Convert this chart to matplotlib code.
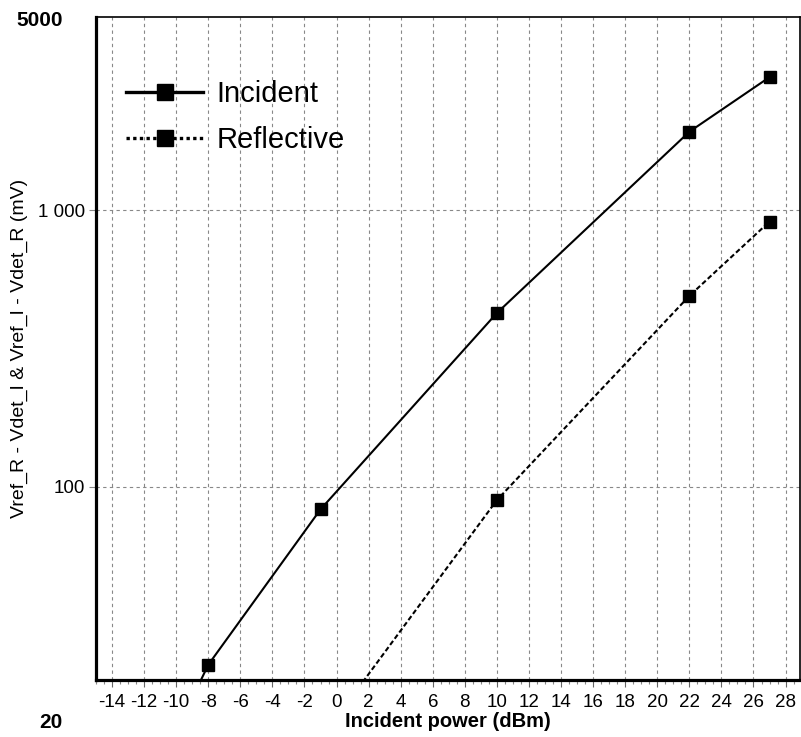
import matplotlib
matplotlib.use("Agg")
import matplotlib.pyplot as plt
from matplotlib.lines import Line2D
from matplotlib.ticker import MultipleLocator, NullLocator, FixedLocator, FixedFormatter

plt.rcParams["font.family"] = ["Liberation Sans", "DejaVu Sans"]
plt.rcParams["axes.unicode_minus"] = False

# data (incident power in dBm, voltage in mV)
incident_x = [-10, -8, -1, 10, 22, 27]
incident_y = [13.0, 22.7, 82.8, 425, 1923, 3030]
reflective_x = [-1, 10, 22, 27]
reflective_y = [12.2, 89.5, 490, 910]

x_ticks = list(range(-14, 29, 2))
y_ticks = [100, 1000]
y_tick_labels = ["100", "1 000"]
y_min, y_max = 20, 5000

fig = plt.figure(figsize=(8.01, 7.37), dpi=100)
ax = fig.add_axes([96 / 801, 1 - 680 / 737, 704 / 801, 663 / 737])

ax.plot(incident_x, incident_y, color="black", lw=1.5, marker="s", ms=8,
        clip_on=True, zorder=3)
ax.plot(reflective_x, reflective_y, color="black", lw=1.5,
        linestyle=(0, (2.4, 1.3)), marker="s", ms=8, zorder=3)

ax.set_yscale("log")
ax.set_xlim(-15, 28.9)
ax.set_ylim(y_min, y_max)

ax.xaxis.set_major_locator(FixedLocator(x_ticks))
ax.xaxis.set_minor_locator(MultipleLocator(0.5))
ax.yaxis.set_major_locator(FixedLocator(y_ticks))
ax.yaxis.set_major_formatter(FixedFormatter(y_tick_labels))
ax.yaxis.set_minor_locator(NullLocator())

ax.tick_params(axis="x", which="major", direction="out", length=5, width=0.8,
               color="#666666", labelsize=13.5, pad=5)
ax.tick_params(axis="x", which="minor", direction="out", length=3, width=0.8,
               color="#888888")
ax.tick_params(axis="y", which="major", direction="out", length=5, width=0.8,
               color="#888888", labelsize=13.5, pad=3)

ax.grid(True, which="major", axis="x", color="#888888", lw=0.8,
        linestyle=(0, (3, 3)))
ax.grid(True, which="major", axis="y", color="#888888", lw=0.8,
        linestyle=(0, (3, 3)))

for side in ["left", "bottom"]:
    ax.spines[side].set_linewidth(2.3)
for side in ["top", "right"]:
    ax.spines[side].set_linewidth(1.2)

ax.set_xlabel("Incident power (dBm)", fontsize=14.5, fontweight="bold", labelpad=1)
ax.set_ylabel("Vref_R - Vdet_I & Vref_I - Vdet_R (mV)", fontsize=14, labelpad=7)

# axis end values drawn outside the frame
fig.text(40 / 801, 1 - 20 / 737, str(y_max), fontsize=15, fontweight="bold",
         ha="center", va="center")
fig.text(51 / 801, 1 - 722 / 737, str(y_min), fontsize=15, fontweight="bold",
         ha="center", va="center")

handles = [
    Line2D([], [], color="black", lw=2.4, marker="s", ms=12),
    Line2D([], [], color="black", lw=2.4, linestyle=(0, (1, 1)), marker="s", ms=12),
]
ax.legend(handles, ["Incident", "Reflective"], loc="upper left",
          bbox_to_anchor=(126 / 801, 1 - 80 / 737), bbox_transform=fig.transFigure,
          frameon=False, fontsize=21, handlelength=2.65, handletextpad=0.45,
          labelspacing=0.62, borderpad=0, borderaxespad=0)

fig.savefig("out.png", dpi=100)
